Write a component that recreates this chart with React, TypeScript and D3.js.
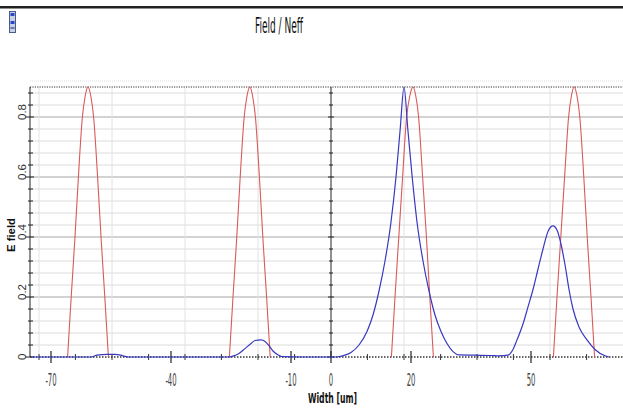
import * as d3 from "d3";

// blue: E field of the mode, [width um, field]
const blueField: [number, number][] = [
  [-75, 0], [-60, 0], [-58.5, 0.006], [-56, 0.009], [-54, 0.009], [-52, 0.004], [-50.5, 0],
  [-26, 0], [-24.5, 0.003], [-23, 0.012], [-21.5, 0.028], [-20, 0.045], [-19, 0.055],
  [-17.5, 0.057], [-16.5, 0.052], [-15.5, 0.038], [-14.5, 0.02], [-13.2, 0.007], [-12, 0.001],
  [-7, 0], [1.5, 0], [3, 0.004], [5, 0.015], [7, 0.04], [9, 0.085], [10.5, 0.14], [12, 0.22],
  [13.5, 0.32], [15, 0.45], [16.25, 0.6], [17.3, 0.76], [18.25, 0.9], [19.2, 0.76],
  [20.3, 0.6], [21.5, 0.45], [23, 0.32], [24.5, 0.22], [26, 0.14], [27.5, 0.085],
  [29, 0.045], [30.5, 0.018], [32, 0.007], [36, 0.006], [40, 0.005], [42, 0.004],
  [44.25, 0.006], [45.5, 0.025], [46.5, 0.057], [48, 0.11], [49.25, 0.167], [50.5, 0.225],
  [51.7, 0.29], [53, 0.36], [54.3, 0.42], [55.5, 0.437], [56.6, 0.42], [57.6, 0.37],
  [58.6, 0.3], [59.5, 0.225], [60.5, 0.16], [62, 0.1], [64, 0.057], [66, 0.025],
  [68.5, 0.004], [69.5, 0],
];

// red: index profile of the four guides
const redGuide1: [number, number][] = [
  [-65.85, 0], [-64.95, 0.2], [-64.05, 0.39], [-63.15, 0.6], [-62.15, 0.8], [-61.45, 0.87],
  [-60.75, 0.9], [-60.05, 0.87], [-59.35, 0.8], [-58.35, 0.6], [-57.45, 0.39], [-56.55, 0.2], [-55.65, 0],
];
const redGuide2: [number, number][] = [
  [-25.4, 0], [-24.5, 0.2], [-23.6, 0.39], [-22.7, 0.6], [-21.7, 0.8], [-21, 0.87],
  [-20.3, 0.9], [-19.6, 0.87], [-18.9, 0.8], [-17.9, 0.6], [-17, 0.39], [-16.1, 0.2], [-15.2, 0],
];
const redGuide3: [number, number][] = [
  [15.1, 0], [16, 0.2], [16.9, 0.39], [17.9, 0.6], [18.9, 0.8], [19.7, 0.87],
  [20.5, 0.9], [21.2, 0.87], [21.9, 0.8], [22.9, 0.6], [23.9, 0.39], [24.7, 0.2], [25.6, 0],
];
const redGuide4: [number, number][] = [
  [55.6, 0], [56.5, 0.2], [57.4, 0.39], [58.4, 0.6], [59.4, 0.8], [60.1, 0.87],
  [60.8, 0.9], [61.5, 0.87], [62.2, 0.8], [63.2, 0.6], [64.1, 0.39], [65, 0.2], [65.9, 0],
];

const xLabels = [-70, -40, -10, 0, 20, 50];
const xGrid = [-73, -54.75, -36.5, -18.25, 18.25, 36.5, 54.75];
const xMinorTicks = [-73, -63.9, -54.75, -45.6, -36.5, -27.4, -18.25, -9.1, 9.1, 18.25, 27.4, 36.5, 45.6, 54.75, 63.9];
const yLabels = [0, 0.2, 0.4, 0.6, 0.8];
const yMinor = [0.04, 0.08, 0.12, 0.16, 0.24, 0.28, 0.32, 0.36, 0.44, 0.48, 0.52, 0.56, 0.64, 0.68, 0.72, 0.76, 0.84, 0.88];

const W = 623;
const H = 408;
const narrow = "'Liberation Sans Narrow', 'DejaVu Sans Condensed', Arial, sans-serif";

export default function App() {
  const x = d3.scaleLinear([-75.25, 73], [30, 623]);
  const y = d3.scaleLinear([0, 0.9], [357, 87]);
  const line = d3.line<[number, number]>(d => x(d[0]), d => y(d[1])).curve(d3.curveMonotoneX);
  const reds = [redGuide1, redGuide2, redGuide3, redGuide4];

  return (
    <svg width={W} height={H} style={{ position: "absolute", left: 0, top: 0, background: "#fff" }}>
      <rect x={0} y={6} width={W} height={2.5} fill="#222" />
      {/* window icon */}
      <g>
        <rect x={9.5} y={11.5} width={6} height={21} fill="#c8d0e4" stroke="#4a5a8a" />
        <rect x={10.5} y={13} width={4} height={3} fill="#2a48c8" />
        <rect x={10.5} y={21} width={4} height={3} fill="#2a48c8" />
        <rect x={10.5} y={27} width={4} height={2} fill="#6a7aa8" />
      </g>
      <text x={279} y={33} textAnchor="middle" fontFamily={narrow} fontSize={21}
        textLength={48} lengthAdjust="spacingAndGlyphs" fill="#111">Field / Neff</text>

      {/* grid */}
      <line x1={30} x2={W} y1={81} y2={81} stroke="#ddd" strokeDasharray="1,1" />
      {yMinor.map(v => (
        <line key={v} x1={30} x2={W} y1={y(v)} y2={y(v)} stroke="#dcdcdc" strokeWidth={1} />
      ))}
      {yLabels.filter(v => v > 0).map(v => (
        <line key={v} x1={30} x2={W} y1={y(v)} y2={y(v)} stroke="#a8a8a8" strokeWidth={1.2} />
      ))}
      {xGrid.map(v => (
        <line key={v} x1={x(v)} x2={x(v)} y1={87} y2={357} stroke="#e2e2e2" />
      ))}

      {/* axes */}
      <line x1={30} x2={W} y1={87} y2={87} stroke="#333" strokeDasharray="1.2,1.2" />
      <line x1={30} x2={W} y1={357} y2={357} stroke="#333" strokeWidth={1.3} strokeDasharray="1.5,1.5" />
      <line x1={30} x2={30} y1={87} y2={357} stroke="#222" />
      <line x1={x(0)} x2={x(0)} y1={87} y2={357} stroke="#222" />
      {yMinor.map(v => (
        <g key={v} stroke="#222">
          <line x1={28} x2={33} y1={y(v)} y2={y(v)} />
          <line x1={x(0) - 2} x2={x(0) + 2} y1={y(v)} y2={y(v)} />
        </g>
      ))}
      {yLabels.map(v => (
        <g key={v} stroke="#222">
          <line x1={25} x2={34} y1={y(v)} y2={y(v)} />
          <line x1={x(0) - 3} x2={x(0) + 3} y1={y(v)} y2={y(v)} />
        </g>
      ))}
      {xMinorTicks.map(v => (
        <line key={v} x1={x(v)} x2={x(v)} y1={354} y2={360} stroke="#333" />
      ))}
      {xLabels.map(v => (
        <line key={v} x1={x(v)} x2={x(v)} y1={351} y2={363} stroke="#222" strokeWidth={1.2} />
      ))}

      {/* curves */}
      {reds.map((r, i) => (
        <path key={i} d={line(r) ?? ""} fill="none" stroke="#d85a5a" strokeWidth={1.1} />
      ))}
      <path d={line(blueField) ?? ""} fill="none" stroke="#3838c0" strokeWidth={1.2} />

      {/* labels */}
      {yLabels.map(v => (
        <text key={v} transform={`translate(25.5,${y(v) + 3}) rotate(-90)`} fontFamily="Arial, 'Liberation Sans', sans-serif"
          fontSize={11.5} fill="#333">{v === 0 ? "0" : d3.format(".1f")(v)}</text>
      ))}
      <text transform="translate(14.5,235) rotate(-90)" textAnchor="middle" fontFamily="Arial, 'Liberation Sans', sans-serif"
        fontWeight="bold" fontSize={10} textLength={34} lengthAdjust="spacingAndGlyphs" fill="#111">E field</text>
      {xLabels.map(v => (
        <text key={v} transform={`translate(${x(v)},386) scale(0.45,1)`} textAnchor="middle"
          fontFamily={narrow} fontSize={17} fill="#444">{v}</text>
      ))}
      <text x={332.5} y={403} textAnchor="middle" fontFamily={narrow} fontWeight="bold" fontSize={14}
        textLength={49} lengthAdjust="spacingAndGlyphs" fill="#111">Width [um]</text>
    </svg>
  );
}
